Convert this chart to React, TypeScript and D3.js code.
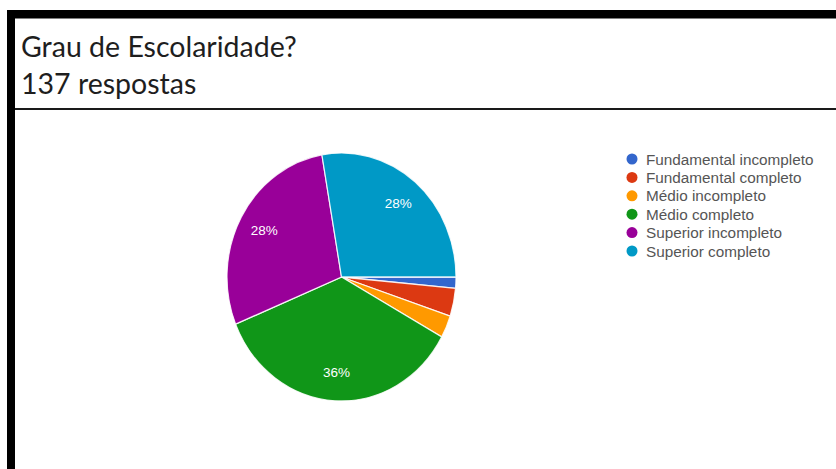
import React from "react";
import * as d3 from "d3";

const categories = [
  "Fundamental incompleto",
  "Fundamental completo",
  "Médio incompleto",
  "Médio completo",
  "Superior incompleto",
  "Superior completo",
];
const counts = [2, 5, 4, 49, 39, 38];
const colors = ["#3366cc", "#dc3912", "#ff9900", "#109618", "#990099", "#0099c6"];
const title = "Grau de Escolaridade?";
const subtitle = "137 respostas";

const W = 836;
const H = 469;
const cx = 341.5;
const cy = 277;
const rx = 114.5;
const ry = 124;

export default function App() {
  const total = d3.sum(counts);
  const pie = d3
    .pie<number>()
    .sort(null)
    .startAngle(Math.PI / 2)
    .endAngle(Math.PI / 2 + 2 * Math.PI);
  const arcs = pie(counts);
  const arc = d3.arc<d3.PieArcDatum<number>>().innerRadius(0).outerRadius(rx);
  const labelArc = d3.arc<d3.PieArcDatum<number>>().innerRadius(rx * 0.77).outerRadius(rx * 0.77);
  const sy = ry / rx;
  const legendY = d3.scalePoint<string>().domain(categories).range([159, 251]);

  return (
    <svg
      width={W}
      height={H}
      style={{ position: "absolute", left: 0, top: 0, background: "#fff" }}
    >
      <rect x={0} y={0} width={W} height={H} fill="#fff" />
      <rect x={7} y={10} width={W - 7} height={8.5} fill="#000" />
      <rect x={7} y={10} width={8} height={H - 10} fill="#000" />
      <rect x={15} y={108} width={W - 15} height={2} fill="#1a1a1a" />
      <text x={21} y={57} fontFamily="Lato, sans-serif" fontSize={28.5} fill="#1e1e1e">
        {title}
      </text>
      <text x={21} y={94} fontFamily="Lato, sans-serif" fontSize={28.5} fill="#1e1e1e">
        {subtitle}
      </text>
      <g transform={`translate(${cx},${cy}) scale(1,${sy})`}>
        {arcs.map((a, i) => (
          <path key={i} d={arc(a) || ""} fill={colors[i]} stroke="#ffffff" strokeWidth={1.2} strokeOpacity={0.85} />
        ))}
      </g>
      {arcs.map((a, i) => {
        const pct = a.data / total;
        if (pct < 0.05) return null;
        const [lx, ly] = labelArc.centroid(a);
        return (
          <text
            key={i}
            x={cx + lx}
            y={cy + ly * sy}
            textAnchor="middle"
            dominantBaseline="central"
            fontFamily="Liberation Sans, Arial, sans-serif"
            fontSize={13.5}
            fill="#ffffff"
          >
            {`${Math.round(pct * 100)}%`}
          </text>
        );
      })}
      {categories.map((c, i) => (
        <g key={c}>
          <circle cx={632} cy={legendY(c)!} r={5.5} fill={colors[i]} />
          <text
            x={646}
            y={legendY(c)!}
            dominantBaseline="central"
            fontFamily="Liberation Sans, Arial, sans-serif"
            fontSize={15.3}
            fill="#555"
          >
            {c}
          </text>
        </g>
      ))}
    </svg>
  );
}
